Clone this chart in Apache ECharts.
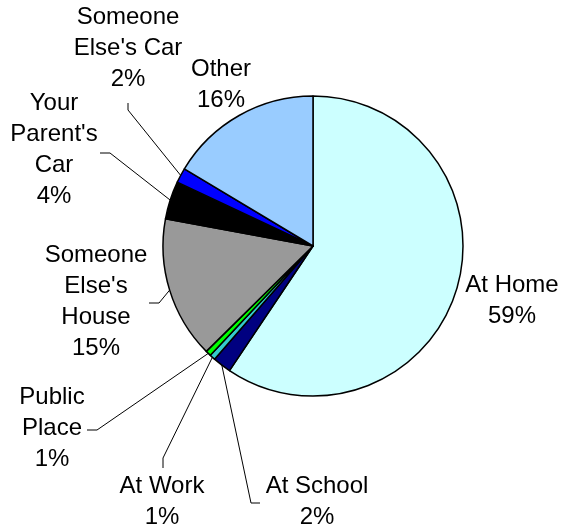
<!DOCTYPE html>
<html>
<head>
<meta charset="utf-8">
<script src="https://cdn.jsdelivr.net/npm/echarts@6/dist/echarts.min.js"></script>
<style>
html,body{margin:0;padding:0;background:#fff;}
#chart{width:563px;height:531px;}
</style>
</head>
<body>
<div id="chart"></div>
<script>
// Data (percent shares; labels rounded as in source)
const categories = ["At Home", "At School", "At Work", "Public\nPlace", "Someone\nElse's\nHouse", "Your\nParent's\nCar", "Someone\nElse's Car", "Other"];
const values = [59.4, 2.0, 0.6, 0.6, 15.3, 4.1, 1.6, 16.4];
const colors = ["#CCFFFF", "#000080", "#33CCCC", "#00FF00", "#999999", "#000000", "#0000FF", "#99CCFF"];

// Layout (label block centres and leader line bends)
const labelPos = [[512, 301], [317, 502], [162, 502], [52, 428], [96, 302], [54, 150], [128, 48], [221, 85]];
const leaderBends = [null, [[251, 503], [260, 503]], [[163, 458], [163, 468]], [[97, 430], [87, 430]], [[159, 303], [149, 303]], [[110, 153], [100, 153]], [[128, 110], [128, 103]], null];

const chart = echarts.init(document.getElementById('chart'), null, {renderer: 'canvas'});
const data = categories.map((c, i) => ({
  name: c,
  value: values[i],
  itemStyle: {color: colors[i]},
  labelLine: {show: leaderBends[i] !== null}
}));

chart.setOption({
  animation: false,
  series: [{
    type: 'pie',
    center: [313, 246],
    radius: 150,
    startAngle: 90,
    clockwise: true,
    avoidLabelOverlap: false,
    data: data,
    itemStyle: {borderColor: '#000', borderWidth: 1.5},
    emphasis: {disabled: true},
    label: {
      show: true,
      position: 'outside',
      fontFamily: 'Liberation Sans, Arial, sans-serif',
      fontSize: 24,
      lineHeight: 31,
      color: '#000',
      align: 'center',
      formatter: p => p.name + '\n' + Math.round(p.percent) + '%'
    },
    labelLine: {show: true, length: 5, length2: 5, lineStyle: {color: '#000', width: 1}},
    labelLayout: function (params) {
      const i = params.dataIndex;
      const res = {x: labelPos[i][0], y: labelPos[i][1], align: 'center', verticalAlign: 'middle'};
      if (leaderBends[i] && params.labelLinePoints) {
        res.labelLinePoints = [params.labelLinePoints[0]].concat(leaderBends[i]);
      }
      return res;
    }
  }]
});
</script>
</body>
</html>
